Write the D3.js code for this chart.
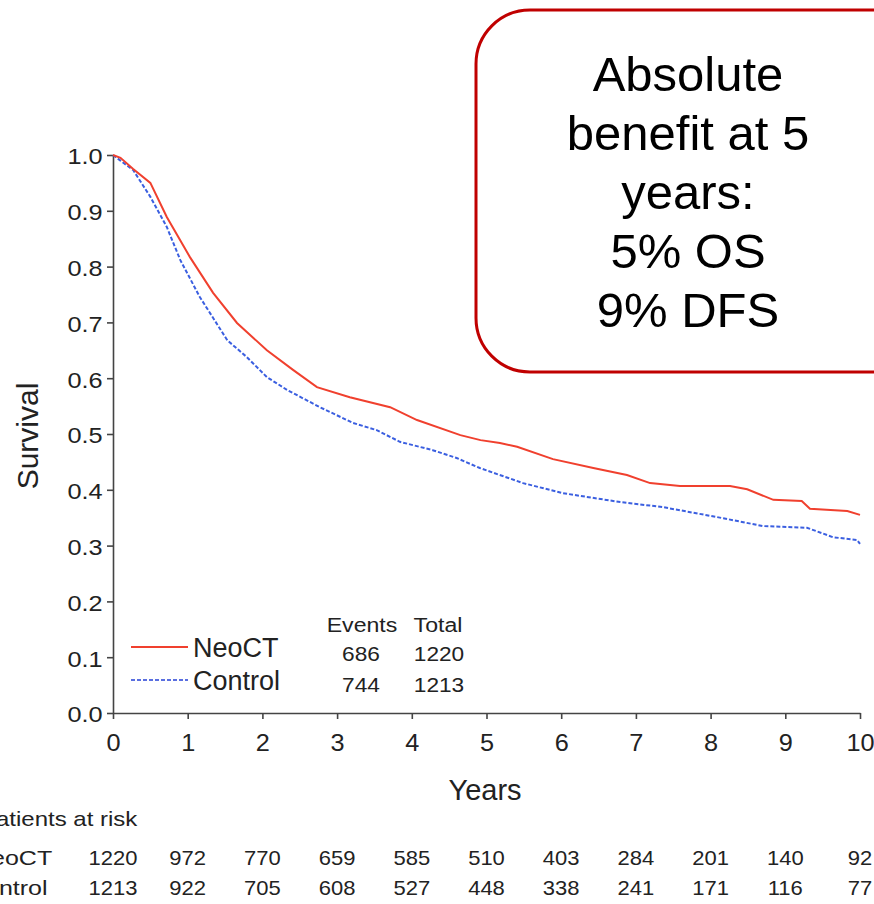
<!DOCTYPE html>
<html>
<head>
<meta charset="utf-8">
<script src="https://cdn.jsdelivr.net/npm/d3@7"></script>
<style>
  body { margin: 0; background: #fff; }
  svg text { font-family: "Liberation Sans", Arial, sans-serif; fill: #222; }
</style>
</head>
<body>
<div id="chart"></div>
<script>
// Kaplan-Meier curves
var neoT = [0, 0.1, 0.27, 0.5, 0.72, 1.03, 1.34, 1.66, 2.06, 2.41, 2.73, 3.17, 3.71, 4.07, 4.65, 4.92, 5.18, 5.41, 5.89, 6.43, 6.88, 7.19, 7.59, 8.26, 8.49, 8.84, 9.22, 9.33, 9.83, 10];
var neoS = [1.0, 0.995, 0.975, 0.95, 0.889, 0.817, 0.753, 0.699, 0.65, 0.615, 0.584, 0.566, 0.548, 0.525, 0.498, 0.489, 0.484, 0.477, 0.455, 0.439, 0.4265, 0.412, 0.407, 0.407, 0.401, 0.382, 0.380, 0.366, 0.362, 0.355];
var ctlT = [0, 0.1, 0.27, 0.5, 0.72, 0.9, 1.16, 1.53, 1.79, 2.06, 2.33, 2.77, 3.21, 3.53, 3.84, 4.28, 4.6, 4.91, 5.49, 6.02, 6.79, 7.36, 8.17, 8.7, 9.29, 9.64, 9.96, 10];
var ctlS = [1.0, 0.99, 0.973, 0.925, 0.871, 0.812, 0.746, 0.668, 0.638, 0.602, 0.579, 0.548, 0.52, 0.507, 0.486, 0.471, 0.457, 0.439, 0.412, 0.394, 0.378, 0.369, 0.349, 0.335, 0.332, 0.315, 0.31, 0.303];

var xTicks = [0, 1, 2, 3, 4, 5, 6, 7, 8, 9, 10];
var yTicks = [0, 0.1, 0.2, 0.3, 0.4, 0.5, 0.6, 0.7, 0.8, 0.9, 1.0];

var groups = ["NeoCT", "Control"];
var events = [686, 744];
var totals = [1220, 1213];
var atRiskNeo = [1220, 972, 770, 659, 585, 510, 403, 284, 201, 140, 92];
var atRiskCtl = [1213, 922, 705, 608, 527, 448, 338, 241, 171, 116, 77];

var boxLines = ["Absolute", "benefit at 5", "years:", "5% OS", "9% DFS"];

var RED = "#f0402e", BLUE = "#3b5fe0";

var W = 874, H = 904;
var svg = d3.select("#chart").append("svg")
  .attr("width", W).attr("height", H);

var x = d3.scaleLinear().domain([0, 10]).range([113, 860]);
var y = d3.scaleLinear().domain([0, 1]).range([713, 155]);

// text helper: the source font is a little wider than Liberation Sans
function txt(parent, tx, ty, str, size, anchor, sx) {
  return parent.append("text")
    .attr("transform", "translate(" + tx + "," + ty + ") scale(" + (sx || 1) + ",1)")
    .attr("text-anchor", anchor || "start")
    .attr("font-size", size)
    .text(str);
}

// axes
var gx = svg.append("g")
  .attr("transform", "translate(0," + y(0) + ")")
  .call(d3.axisBottom(x).tickValues(xTicks).tickFormat(d3.format("d")).tickSize(6).tickSizeOuter(0));
gx.selectAll("text").attr("font-size", 23).attr("y", 22).attr("transform", "scale(1.1,1)");

var gy = svg.append("g")
  .attr("transform", "translate(" + x(0) + ",0)")
  .call(d3.axisLeft(y).tickValues(yTicks).tickFormat(d3.format(".1f")).tickSize(6).tickSizeOuter(0));
gy.selectAll("text").attr("font-size", 22).attr("dy", "0.4em").attr("transform", "scale(1.15,1)");

svg.selectAll(".domain, .tick line").attr("stroke", "#444").attr("stroke-width", 1.6);
svg.selectAll(".tick text").style("fill", "#222");

// axis titles
svg.append("text")
  .attr("transform", "translate(38,436) rotate(-90)")
  .attr("text-anchor", "middle")
  .attr("font-size", 30)
  .text("Survival");

txt(svg, 485, 800, "Years", 29, "middle");

// curves
var line = d3.line()
  .x(function (d) { return x(d[0]); })
  .y(function (d) { return y(d[1]); });

svg.append("path")
  .datum(d3.zip(ctlT, ctlS))
  .attr("d", line)
  .attr("fill", "none")
  .attr("stroke", BLUE)
  .attr("stroke-width", 2)
  .attr("stroke-dasharray", "4,2");

svg.append("path")
  .datum(d3.zip(neoT, neoS))
  .attr("d", line)
  .attr("fill", "none")
  .attr("stroke", RED)
  .attr("stroke-width", 2);

// legend
var legend = svg.append("g");
var legY = [647, 680];
var nameY = [657, 690];
var numY = [661, 692];
groups.forEach(function (g, i) {
  legend.append("line")
    .attr("x1", 131).attr("x2", 188)
    .attr("y1", legY[i]).attr("y2", legY[i])
    .attr("stroke", i === 0 ? RED : "#5a6fe0")
    .attr("stroke-width", 2)
    .attr("stroke-dasharray", i === 0 ? null : "4,2");
  txt(legend, 193, nameY[i], g, 27, "start");
  txt(legend, 361, numY[i], events[i], 21, "middle", 1.08);
  txt(legend, 439, numY[i], totals[i], 21, "middle", 1.08);
});
txt(legend, 362, 632, "Events", 21, "middle", 1.1);
txt(legend, 438, 632, "Total", 21, "middle", 1.1);

// patients at risk table
txt(svg, -20, 826, "Patients at risk", 20, "start", 1.2);
txt(svg, -27, 865, "NeoCT", 20, "start", 1.25);
txt(svg, -33, 895, "Control", 20, "start", 1.25);

atRiskNeo.forEach(function (d, i) {
  txt(svg, x(xTicks[i]), 865, d, 20, "middle", 1.1);
});
atRiskCtl.forEach(function (d, i) {
  txt(svg, x(xTicks[i]), 895, d, 20, "middle", 1.1);
});

// annotation box
svg.append("rect")
  .attr("x", 476).attr("y", 10)
  .attr("width", 460).attr("height", 362)
  .attr("rx", 54).attr("ry", 54)
  .attr("fill", "#fff")
  .attr("stroke", "#c00000")
  .attr("stroke-width", 3);

boxLines.forEach(function (d, i) {
  txt(svg, 688, 91 + i * 59, d, 49, "middle").style("fill", "#000");
});
</script>
</body>
</html>
